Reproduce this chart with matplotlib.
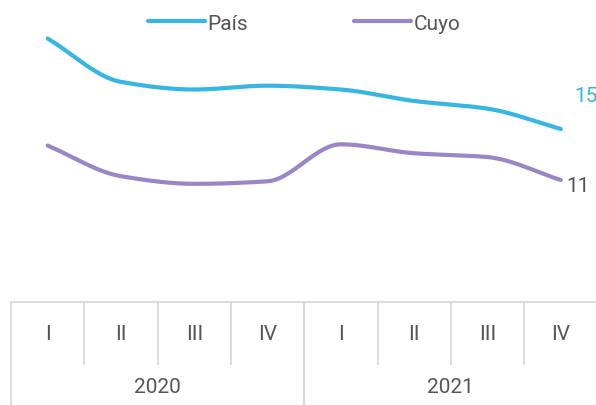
import numpy as np
import matplotlib
matplotlib.use("Agg")
import matplotlib.pyplot as plt

plt.rcParams['font.family'] = ['Roboto', 'DejaVu Sans']

quarters = ["I", "II", "III", "IV", "I", "II", "III", "IV"]
years = ["2020", "2021"]
pais = [22.1, 18.7, 18.1, 18.4, 18.1, 17.2, 16.6, 15.0]
cuyo = [13.7, 11.3, 10.7, 10.9, 13.8, 13.1, 12.8, 11.0]

BLUE = "#35b6e4"
PURPLE = "#9a86c6"
GRAY = "#555555"
GRID = "#d6d6d6"
FS = 15


def smooth(y, n=40):
    # monotone cubic (Fritsch-Carlson) through the points, for drawing only
    y = np.asarray(y, float)
    x = np.arange(len(y), dtype=float)
    d = np.diff(y)
    m = np.zeros_like(y)
    m[0], m[-1] = d[0], d[-1]
    for i in range(1, len(y) - 1):
        m[i] = 0 if d[i - 1] * d[i] <= 0 else 2 / (1 / d[i - 1] + 1 / d[i])
    xs, ys = [], []
    for i in range(len(y) - 1):
        t = np.linspace(0, 1, n)
        h00 = 2 * t**3 - 3 * t**2 + 1
        h10 = t**3 - 2 * t**2 + t
        h01 = -2 * t**3 + 3 * t**2
        h11 = t**3 - t**2
        xs.append(x[i] + t)
        ys.append(h00 * y[i] + h10 * m[i] + h01 * y[i + 1] + h11 * m[i + 1])
    return np.concatenate(xs), np.concatenate(ys)


W, H = 596, 406
fig = plt.figure(figsize=(W / 100, H / 100), dpi=100)

col = 73.3
left = 11
xlim = (-0.5 - left / col, (W - left) / col - 0.5)
table_top = 303

ax = fig.add_axes([0, (H - table_top) / H, 1, table_top / H])
ax.set_xlim(xlim)
ax.set_ylim(1.43, 25.2)
ax.axis("off")

for vals, color, name in [(pais, BLUE, "País"), (cuyo, PURPLE, "Cuyo")]:
    xs, ys = smooth(vals)
    ax.plot(xs, ys, color=color, lw=3, solid_capstyle="round", label=name)

ax.text(7.18, pais[-1] + 2.6, f"{pais[-1]:.0f}", color=BLUE, fontsize=FS,
        ha="left", va="center")
ax.text(7.08, cuyo[-1] - 0.45, f"{cuyo[-1]:.0f}", color=GRAY, fontsize=FS,
        ha="left", va="center")

fig.legend(loc="center", bbox_to_anchor=(0.510, 1 - 24 / H), ncol=2,
           frameon=False, handlelength=2.75, handletextpad=0.1,
           columnspacing=5.1, fontsize=FS, labelcolor=GRAY)

# category table below the plot
tb = fig.add_axes([0, 0, 1, (H - table_top) / H])
tb.set_xlim(xlim)
tb.set_ylim(H - table_top, 0)
tb.axis("off")
tb.plot([-0.5, xlim[1] + 1], [0, 0], color=GRID, lw=1.2, clip_on=False)
tb.plot([-0.5, -0.5], [0, H - table_top], color=GRID, lw=1.2)
for i in range(1, len(quarters)):
    if i == 4:
        tb.plot([i - 0.5, i - 0.5], [0, H - table_top], color=GRID, lw=1.2)
    else:
        tb.plot([i - 0.5, i - 0.5], [0, 62], color=GRID, lw=1.2)
for i, q in enumerate(quarters):
    tb.text(i, 32, q, ha="center", va="center", fontsize=FS, color=GRAY)
for j, yr in enumerate(years):
    tb.text(1.5 + 4 * j, 85, yr, ha="center", va="center", fontsize=FS,
            color=GRAY)

fig.savefig("out.png", dpi=100)
